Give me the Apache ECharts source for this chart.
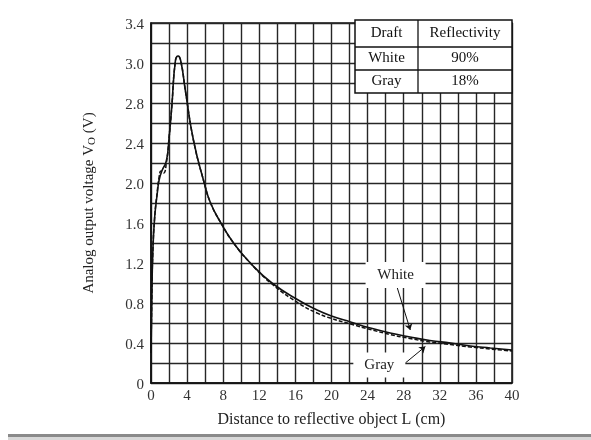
<!DOCTYPE html>
<html>
<head>
<meta charset="utf-8">
<script src="https://cdn.jsdelivr.net/npm/echarts@6/dist/echarts.min.js"></script>
<style>
  html, body { margin: 0; padding: 0; background: #fff; }
  #main { width: 591px; height: 440px; }
</style>
</head>
<body>
<div id="main"></div>
<script>
// distance L (cm) and output voltage (V)
var whiteDist = [0, 0.1, 0.2, 0.4, 0.7, 0.9, 1.2, 1.7, 2.0, 2.3, 2.7, 3.0, 3.3, 3.8, 4.7, 5.9, 6.6, 7.75, 9.15, 11.0, 13.4, 16.5, 18.4, 20.0, 22.1, 24.3, 26.5, 28.7, 30.9, 33.2, 35.4, 37.6, 40];
var whiteVolt = [0.3, 0.9, 1.3, 1.65, 1.9, 2.03, 2.12, 2.22, 2.45, 2.76, 3.22, 3.27, 3.22, 2.93, 2.43, 2.0, 1.8, 1.6, 1.4, 1.2, 1.0, 0.82, 0.73, 0.67, 0.61, 0.55, 0.5, 0.46, 0.425, 0.4, 0.37, 0.35, 0.33];

var grayDist = [0, 0.1, 0.2, 0.4, 0.7, 0.9, 1.1, 1.4, 1.7, 2.0, 2.3, 2.7, 3.0, 3.3, 3.8, 4.7, 5.9, 6.6, 7.75, 9.15, 11.0, 13.4, 16.5, 18.4, 20.0, 22.1, 24.3, 26.5, 28.7, 30.9, 33.2, 35.4, 37.6, 40];
var grayVolt = [0.3, 0.9, 1.3, 1.65, 1.92, 2.06, 2.12, 2.1, 2.2, 2.45, 2.76, 3.22, 3.27, 3.22, 2.93, 2.43, 2.0, 1.8, 1.6, 1.4, 1.2, 0.99, 0.79, 0.7, 0.645, 0.59, 0.535, 0.485, 0.445, 0.41, 0.385, 0.36, 0.34, 0.32];

// tick labels as printed (the two top ones are printed that way in the original)
var xTickLabels = ['0', '4', '8', '12', '16', '20', '24', '28', '32', '36', '40'];
var yTickLabels = ['0', '0.4', '0.8', '1.2', '1.6', '2.0', '2.4', '2.8', '3.0', '3.4'];

var tableRows = [
  ['Draft', 'Reflectivity'],
  ['White', '90%'],
  ['Gray', '18%']
];

var serif = '"Liberation Serif", "DejaVu Serif", serif';

function pairs(xs, ys) {
  return xs.map(function (x, i) { return [x, ys[i]]; });
}

function buildTable() {
  var left = 355, top = 20, w = 157, colSplit = 63;
  var rowH = [27, 23, 23];
  var els = [{
    type: 'rect',
    shape: { x: left, y: top, width: w, height: rowH[0] + rowH[1] + rowH[2] },
    style: { fill: '#fff', stroke: '#111', lineWidth: 1.5 },
    z: 100
  }, {
    type: 'line',
    shape: { x1: left + colSplit, y1: top, x2: left + colSplit, y2: top + rowH[0] + rowH[1] + rowH[2] },
    style: { stroke: '#111', lineWidth: 1.3 },
    z: 101
  }];
  var y = top;
  tableRows.forEach(function (row, r) {
    if (r > 0) {
      els.push({
        type: 'line',
        shape: { x1: left, y1: y, x2: left + w, y2: y },
        style: { stroke: '#111', lineWidth: 1.3 },
        z: 101
      });
    }
    els.push({
      type: 'text',
      x: left + colSplit / 2, y: y + rowH[r] / 2,
      style: { text: row[0], font: '15px ' + serif, fill: '#111', align: 'center', verticalAlign: 'middle' },
      z: 102
    });
    els.push({
      type: 'text',
      x: left + colSplit + (w - colSplit) / 2, y: y + rowH[r] / 2,
      style: { text: row[1], font: '15px ' + serif, fill: '#111', align: 'center', verticalAlign: 'middle' },
      z: 102
    });
    y += rowH[r];
  });
  els.push({
    type: 'rect',
    shape: { x: 8, y: 434, width: 583, height: 3 },
    style: { fill: '#8a8a8a' }
  });
  els.push({
    type: 'rect',
    shape: { x: 8, y: 437, width: 583, height: 3 },
    style: { fill: '#d8d8d8' }
  });
  return els;
}

var chart = echarts.init(document.getElementById('main'), null, { renderer: 'canvas' });

var gridLine = { show: true, lineStyle: { color: '#262626', width: 1.4 } };

var option = {
  animation: false,
  backgroundColor: '#fff',
  grid: {
    left: 151, right: 79, top: 23, bottom: 57,
    show: true, borderColor: '#111', borderWidth: 1.5
  },
  xAxis: {
    type: 'value',
    min: 0, max: 40, interval: 4,
    name: 'Distance to reflective object L (cm)',
    nameLocation: 'middle',
    nameGap: 29,
    nameTextStyle: { fontFamily: serif, fontSize: 16, color: '#222' },
    axisLine: { show: true, lineStyle: { color: '#111', width: 1.5 } },
    axisTick: { show: false },
    axisLabel: {
      margin: 6, fontFamily: serif, fontSize: 15, color: '#333',
      formatter: function (v) { return xTickLabels[Math.round(v / 4)]; }
    },
    splitLine: gridLine,
    minorTick: { show: false, splitNumber: 2 },
    minorSplitLine: gridLine
  },
  yAxis: {
    type: 'value',
    min: 0, max: 3.6, interval: 0.4,
    name: '{a|Analog output voltage V}{s|O}{a| (V)}',
    nameLocation: 'middle',
    nameGap: 53,
    nameTextStyle: {
      rich: {
        a: { fontFamily: serif, fontSize: 15, color: '#222' },
        s: { fontFamily: serif, fontSize: 11, color: '#222', verticalAlign: 'bottom', padding: [6, 0, 0, 0] }
      }
    },
    axisLine: { show: true, lineStyle: { color: '#111', width: 1.5 } },
    axisTick: { show: false },
    axisLabel: {
      margin: 7, fontFamily: serif, fontSize: 15, color: '#333', verticalAlign: 'top', padding: [-5, 0, 0, 0],
      formatter: function (v) { return yTickLabels[Math.round(v / 0.4)]; }
    },
    splitLine: gridLine,
    minorTick: { show: false, splitNumber: 2 },
    minorSplitLine: gridLine
  },
  series: [
    {
      name: 'White',
      type: 'line',
      data: pairs(whiteDist, whiteVolt),
      showSymbol: false,
      smooth: 0.5,
      lineStyle: { color: '#111', width: 1.6 },
      z: 3,
      markPoint: {
        symbol: 'rect',
        silent: true,
        itemStyle: { color: '#fff' },
        label: { show: true, color: '#222', fontFamily: serif, fontSize: 15, position: 'inside' },
        data: [
          { coord: [27.1, 1.08], symbolSize: [60, 26], value: 'White', label: { formatter: 'White' } },
          { coord: [25.3, 0.18], symbolSize: [52, 25], value: 'Gray', label: { formatter: 'Gray' } }
        ]
      },
      markLine: {
        silent: true,
        symbol: ['none', 'arrow'],
        symbolSize: 6,
        label: { show: false },
        lineStyle: { color: '#111', width: 1, type: 'solid' },
        data: [
          [{ coord: [27.26, 0.96] }, { coord: [28.73, 0.53] }],
          [{ coord: [28.18, 0.2] }, { coord: [30.4, 0.365] }]
        ]
      }
    },
    {
      name: 'Gray',
      type: 'line',
      data: pairs(grayDist, grayVolt),
      showSymbol: false,
      smooth: 0.5,
      lineStyle: { color: '#111', width: 1.5, type: [4, 2] },
      z: 3
    }
  ],
  graphic: buildTable()
};

chart.setOption(option);
</script>
</body>
</html>
